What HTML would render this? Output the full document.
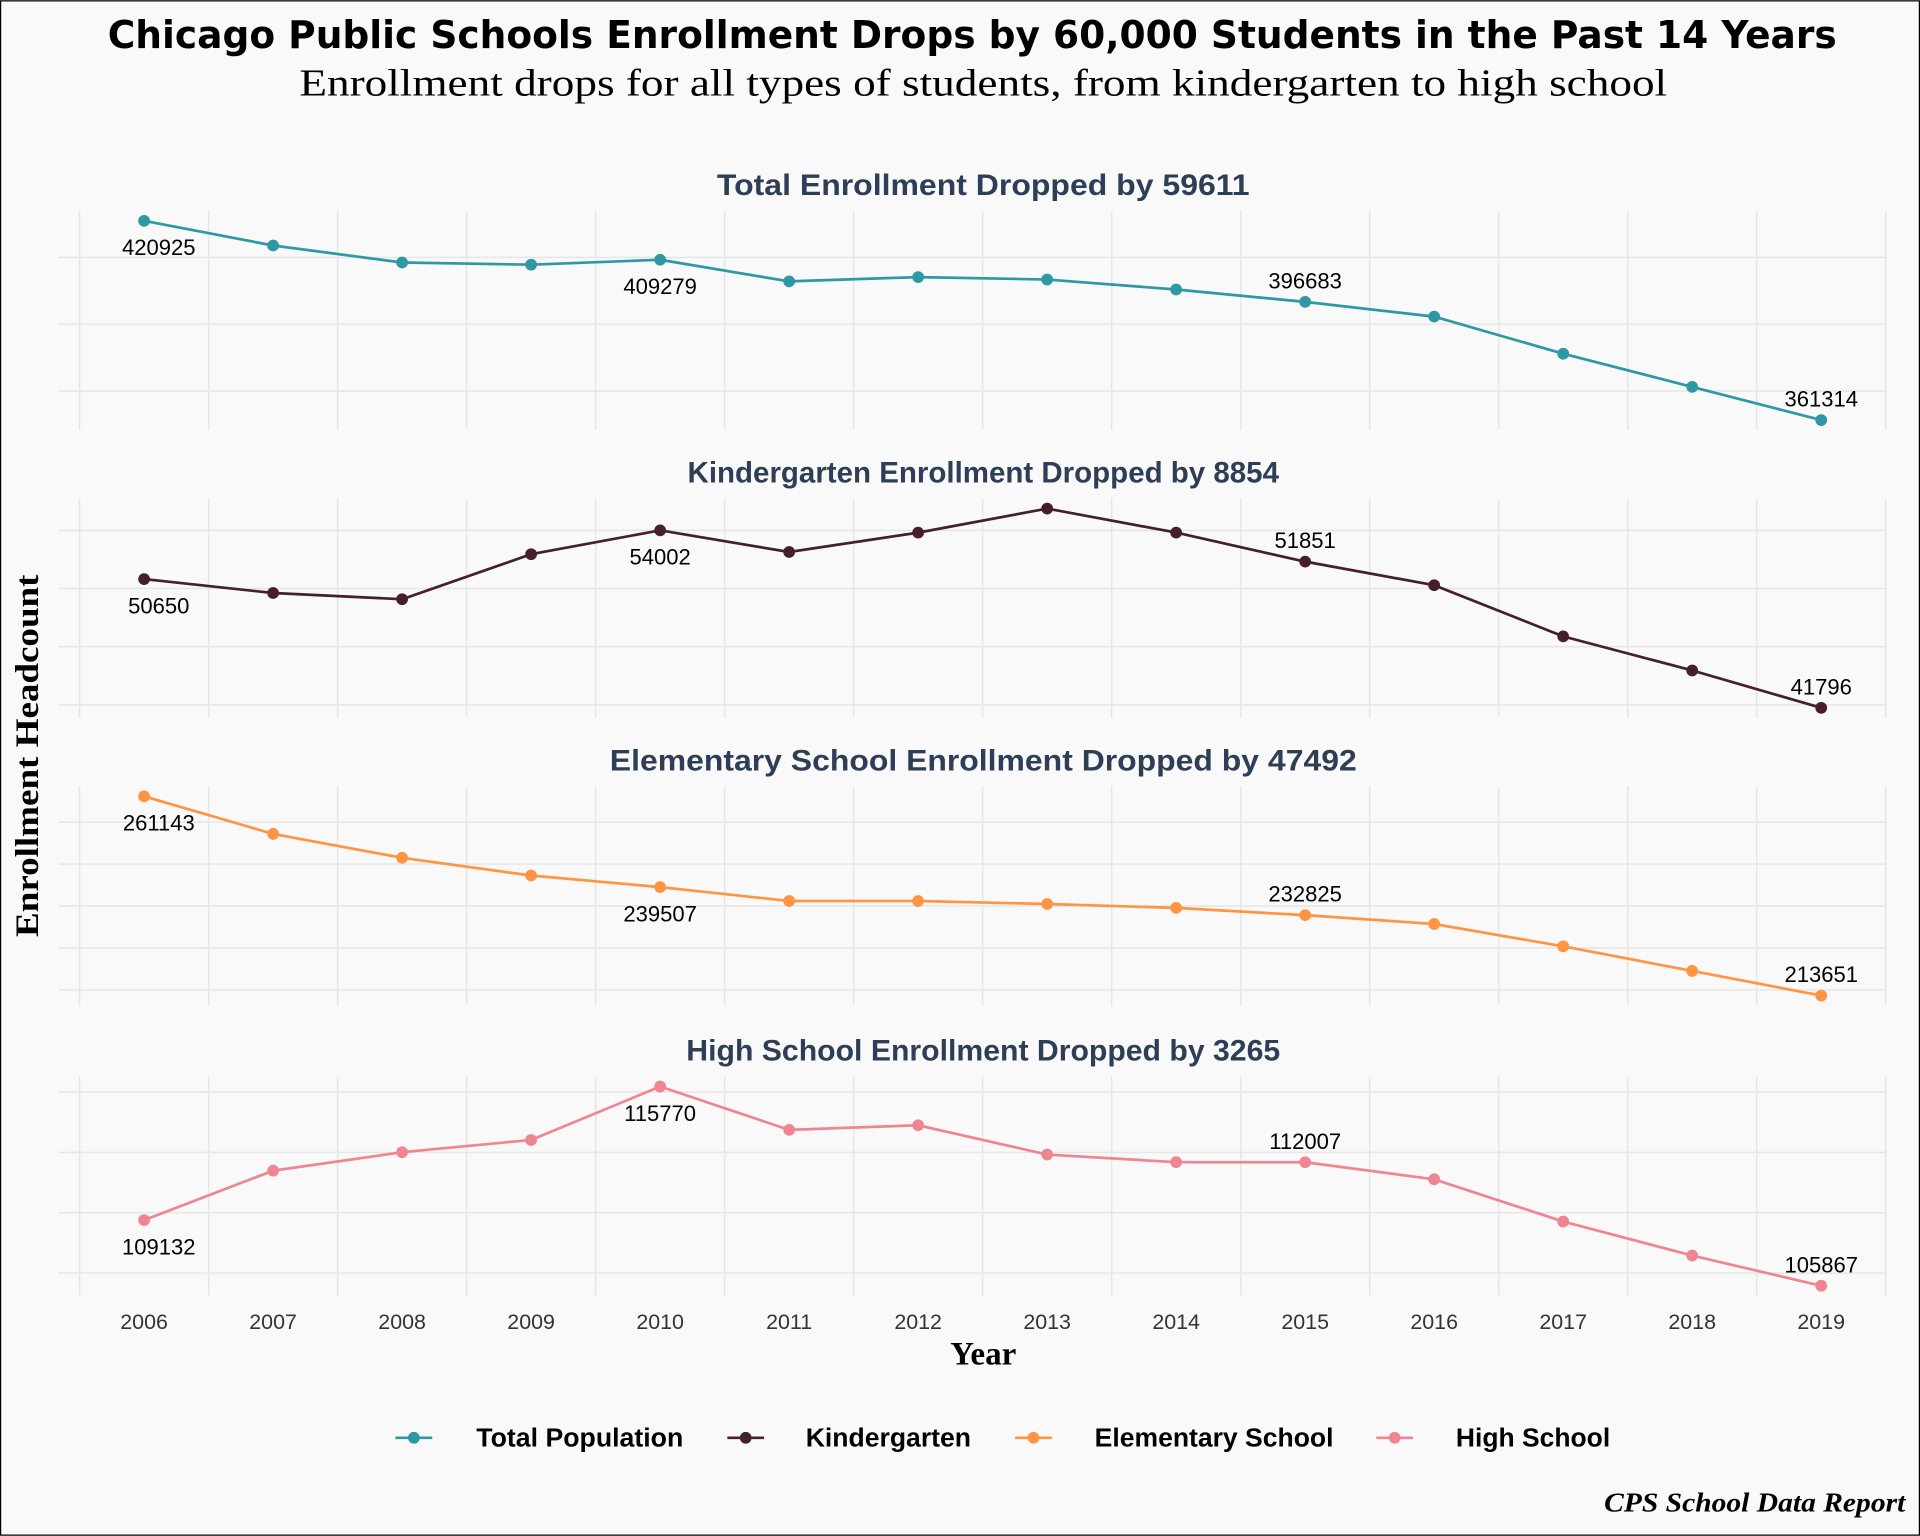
<!DOCTYPE html>
<html><head><meta charset="utf-8"><style>
html,body{margin:0;padding:0;background:#f9f9f9;}
svg{display:block;}
</style></head><body>
<svg id="chart" width="1920" height="1536" viewBox="0 0 1568 1254" xmlns="http://www.w3.org/2000/svg">
<rect x="0.5" y="0.5" width="1567" height="1253" fill="#f9f9f9" stroke="#000" stroke-width="1"/>
<text x="794" y="39" text-anchor="middle" textLength="1412" lengthAdjust="spacingAndGlyphs" font-family="'DejaVu Sans',sans-serif" font-weight="bold" font-size="31" fill="#000">Chicago Public Schools Enrollment Drops by 60,000 Students in the Past 14 Years</text>
<text x="803" y="78" text-anchor="middle" textLength="1117" lengthAdjust="spacingAndGlyphs" font-family="'Liberation Serif',serif" font-size="31" fill="#000">Enrollment drops for all types of students, from kindergarten to high school</text>
<text transform="translate(31,617) rotate(-90)" text-anchor="middle" textLength="296" lengthAdjust="spacingAndGlyphs" font-family="'Liberation Serif',serif" font-weight="bold" font-size="27" fill="#000">Enrollment Headcount</text>
<text x="803" y="1114" text-anchor="middle" font-family="'Liberation Serif',serif" font-weight="bold" font-size="27" fill="#000">Year</text>
<text x="1556" y="1234" text-anchor="end" textLength="246" lengthAdjust="spacingAndGlyphs" font-family="'Liberation Serif',serif" font-weight="bold" font-style="italic" font-size="22" fill="#000">CPS School Data Report</text>
<g id="panels"></g>
<g id="legend"></g>
</svg>
<script>
const years = [2006,2007,2008,2009,2010,2011,2012,2013,2014,2015,2016,2017,2018,2019];
const totalValues = [420925,413542,408450,407800,409279,402810,404090,403360,400370,396683,392270,381170,371240,361314];
const kinderValues = [50650,49694,49266,52362,54002,52513,53847,55500,53847,51851,50230,46710,44366,41796];
const elemValues = [261143,252180,246490,242270,239507,236200,236200,235480,234550,232825,230710,225390,219530,213651];
const highValues = [109132,111588,112506,113115,115770,113616,113845,112390,112010,112007,111160,109060,107370,105867];
const panelTitles = ["Total Enrollment Dropped by 59611","Kindergarten Enrollment Dropped by 8854","Elementary School Enrollment Dropped by 47492","High School Enrollment Dropped by 3265"];
const seriesNames = ["Total Population","Kindergarten","Elementary School","High School"];
const totalGrid = [410000,390000,370000];
const kinderGrid = [54000,50000,46000,42000];
const elemGrid = [255000,245000,235000,225000,215000];
const highGrid = [115500,112500,109500,106500];
const labelIdx = [0,4,9,13];

const NS = "http://www.w3.org/2000/svg";
const colors = ["#2E99A5","#45202A","#FF9442","#F08592"];
const panelTops = [172,407,642,879];
const panelH = 179;
const titleLens = [435,483,610,485];
const allSeries = [totalValues,kinderValues,elemValues,highValues];
const allGrids = [totalGrid,kinderGrid,elemGrid,highGrid];
const xL = 65, xR = 1540;
function xScale(yr){ const x0=2005.5,x1=2019.5; return xL + (yr-x0)/(x1-x0)*(xR-xL); }
function mk(tag, attrs, parent){ const e=document.createElementNS(NS,tag); for(const k in attrs) e.setAttribute(k,attrs[k]); parent.appendChild(e); return e; }
const panelsG = document.getElementById('panels');

allSeries.forEach((vals,p)=>{
  const g = mk('g',{},panelsG);
  
  
  const top = panelTops[p], bot = top+panelH;
  const mn = Math.min(...vals), mx = Math.max(...vals), pad=(mx-mn)*0.05;
  const yScale = v => bot - (v-(mn-pad))/((mx+pad)-(mn-pad))*panelH;
  for(let i=0;i<=14;i++){
    const x = xScale(2005.5+i);
    const l = mk('line',{x1:x,x2:x,y1:top,y2:bot,stroke:'#e6e6e6','stroke-width':1.2},g);
    
    
  }
  allGrids[p].forEach(v=>{
    const y = yScale(v);
    const l = mk('line',{x1:48,x2:1541,y1:y,y2:y,stroke:'#e6e6e6','stroke-width':1.2},g);
    
    
  });
  const t = mk('text',{x:803,y:top-13,'text-anchor':'middle',textLength:titleLens[p],lengthAdjust:'spacingAndGlyphs','font-family':"'Liberation Sans',sans-serif",'font-weight':'bold','font-size':24,fill:'#2E3E56'},g);
  t.textContent = panelTitles[p];
  
  
  const pts = vals.map((v,i)=>xScale(years[i])+','+yScale(v)).join(' ');
  const line = mk('polyline',{points:pts,fill:'none',stroke:colors[p],'stroke-width':2.2},g);
  
  
  vals.forEach((v,i)=>{
    const c = mk('circle',{cx:xScale(years[i]),cy:yScale(v),r:4.8,fill:colors[p]},g);
    
    
  });
  labelIdx.forEach((i,k)=>{
    const below = k<2;
    const y = yScale(vals[i]) + (below ? 28 : -11);
    const tx = mk('text',{x:xScale(years[i])+(i===0?12:0),y:y,'text-anchor':'middle','font-family':"'Liberation Sans',sans-serif",'font-size':18,fill:'#000'},g);
    tx.textContent = String(vals[i]);
    
    
  });
});
years.forEach(yr=>{
  const t = mk('text',{x:xScale(yr),y:1085,'text-anchor':'middle','font-family':"'Liberation Sans',sans-serif",'font-size':17.5,fill:'#333'},panelsG);
  t.textContent = String(yr);
  
  
});
const legendG = document.getElementById('legend');


const legX = [323,594,829,1124];
const legTextX = [389,658,894,1189];
const legTextLen = [169,135,195,126];
seriesNames.forEach((n,i)=>{
  const g = mk('g',{},legendG);
  
  
  mk('line',{x1:legX[i],x2:legX[i]+30,y1:1174,y2:1174,stroke:colors[i],'stroke-width':2.2},g);
  mk('circle',{cx:legX[i]+15,cy:1174,r:4.8,fill:colors[i]},g);
  const t = mk('text',{x:legTextX[i],y:1181,textLength:legTextLen[i],lengthAdjust:'spacingAndGlyphs','font-family':"'Liberation Sans',sans-serif",'font-weight':'bold','font-size':21,fill:'#000'},g);
  t.textContent = n;
});
</script>
</body></html>
